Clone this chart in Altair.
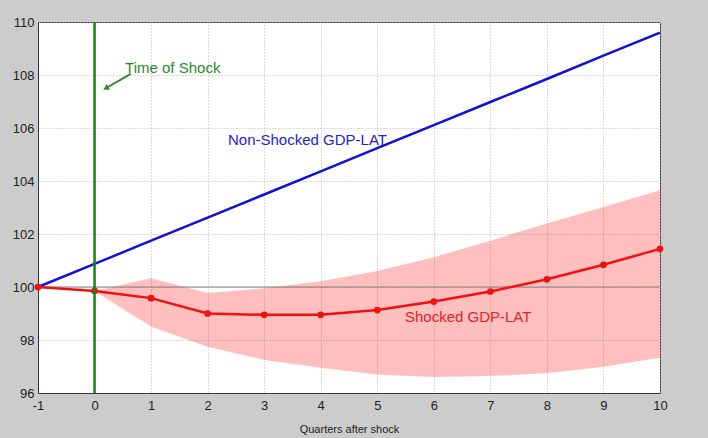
import altair as alt
import pandas as pd

# ---- data ----
quarters = [-1, 0, 1, 2, 3, 4, 5, 6, 7, 8, 9, 10]
non_shocked = [100.0, 100.87, 101.75, 102.62, 103.49, 104.36, 105.24, 106.11, 106.98, 107.85, 108.73, 109.6]
shocked = [100.0, 99.85, 99.58, 99.0, 98.95, 98.95, 99.13, 99.45, 99.83, 100.29, 100.84, 101.44]

band_quarters = [0, 1, 2, 3, 4, 5, 6, 7, 8, 9, 10]
band_upper = [99.85, 100.33, 99.77, 99.95, 100.22, 100.6, 101.12, 101.75, 102.4, 103.02, 103.65]
band_lower = [99.85, 98.5, 97.75, 97.25, 96.95, 96.7, 96.6, 96.64, 96.75, 96.99, 97.33]

x_ticks = list(range(-1, 11))
y_ticks = list(range(96, 111))

shock_time = [0]
baseline_level = [100]

annotations = ["Time of Shock", "Non-Shocked GDP-LAT", "Shocked GDP-LAT"]
ann_x = [0.54, 2.36, 5.49]
ann_y = [108.09, 105.37, 98.69]
ann_colors = ["#2a8a2a", "#2424cc", "#e02424"]

arrow_start = (0.64, 108.04)
arrow_end = (0.2, 107.5)

FONT = "Liberation Sans"

lines_df = pd.DataFrame({"q": quarters, "non": non_shocked, "shock": shocked})
band_df = pd.DataFrame({"q": band_quarters, "lo": band_lower, "hi": band_upper})
ann_df = pd.DataFrame({"text": annotations, "x": ann_x, "y": ann_y, "c": ann_colors})
arrow_df = pd.DataFrame({"x": [arrow_start[0]], "y": [arrow_start[1]],
                         "x2": [arrow_end[0]], "y2": [arrow_end[1]]})
head_df = pd.DataFrame({"x": [arrow_end[0]], "y": [arrow_end[1]]})
vline_df = pd.DataFrame({"x": shock_time, "ylo": [96], "yhi": [110]})
hline_df = pd.DataFrame({"y": baseline_level, "xlo": [-1], "xhi": [10]})

xscale = alt.Scale(domain=[-1, 10], nice=False, zero=False)
yscale = alt.Scale(domain=[96, 110], nice=False, zero=False)

xaxis = alt.Axis(values=x_ticks, labelExpr="'' + datum.value", grid=True, gridDash=[1, 2],
                 gridColor="#b4b4b4", gridOpacity=1, tickSize=0, labelPadding=6,
                 labelFontSize=13, labelFont=FONT, labelColor="#222222",
                 domainColor="#333333", title="Quarters after shock", titleFont=FONT,
                 titleFontSize=11, titleFontWeight="normal", titleColor="#222222",
                 titlePadding=11, labelFlush=False)
yaxis = alt.Axis(values=y_ticks, grid=True, gridDash=[1, 2], gridColor="#b4b4b4",
                 gridOpacity=1, tickSize=0, labelPadding=4, labelFontSize=13,
                 labelFont=FONT, labelColor="#222222", domainColor="#333333",
                 labelExpr="datum.value % 2 == 0 ? datum.label : ''", title=None,
                 labelFlush=False)

base_x = alt.X("q:Q", scale=xscale, axis=xaxis)

band = alt.Chart(band_df).mark_area(color="#ff0000", opacity=0.25).encode(
    x=base_x,
    y=alt.Y("lo:Q", scale=yscale, axis=yaxis),
    y2="hi:Q",
)

hline = alt.Chart(hline_df).mark_rule(color="#808080", strokeWidth=1).encode(
    x=alt.X("xlo:Q", scale=xscale), x2="xhi:Q", y=alt.Y("y:Q", scale=yscale)
)

blue = alt.Chart(lines_df).mark_line(color="#1010d8", strokeWidth=2.5).encode(
    x=alt.X("q:Q", scale=xscale), y=alt.Y("non:Q", scale=yscale)
)

red = alt.Chart(lines_df).mark_line(color="#f01010", strokeWidth=2.5).encode(
    x=alt.X("q:Q", scale=xscale), y=alt.Y("shock:Q", scale=yscale)
)
red_pts = alt.Chart(lines_df).mark_point(color="#f01010", filled=True, opacity=1,
                                         size=45, shape="circle").encode(
    x=alt.X("q:Q", scale=xscale), y=alt.Y("shock:Q", scale=yscale)
)

vline = alt.Chart(vline_df).mark_rule(color="#138a13", strokeWidth=2.5).encode(
    x=alt.X("x:Q", scale=xscale), y=alt.Y("ylo:Q", scale=yscale), y2="yhi:Q"
)

arrow = alt.Chart(arrow_df).mark_rule(color="#2a8a2a", strokeWidth=2).encode(
    x=alt.X("x:Q", scale=xscale), y=alt.Y("y:Q", scale=yscale), x2="x2:Q", y2="y2:Q"
)
head = alt.Chart(head_df).mark_point(shape="triangle-up", filled=True, color="#2a8a2a",
                                     opacity=1, size=45, angle=240).encode(
    x=alt.X("x:Q", scale=xscale), y=alt.Y("y:Q", scale=yscale)
)

texts = alt.Chart(ann_df).mark_text(align="left", baseline="alphabetic", fontSize=15,
                                    font=FONT).encode(
    x=alt.X("x:Q", scale=xscale), y=alt.Y("y:Q", scale=yscale),
    text="text:N", color=alt.Color("c:N", scale=None)
)

chart = alt.layer(band, hline, blue, red, red_pts, vline, arrow, head, texts).properties(
    width=622, height=371,
    background="#cccccc",
    padding={"left": 38, "top": 22, "right": 48, "bottom": 45},
    autosize=alt.AutoSizeParams(type="none"),
).configure_view(fill="white", stroke="#333333", strokeWidth=1)

chart.save("out.html", embed_options={"renderer": "svg", "actions": False})
